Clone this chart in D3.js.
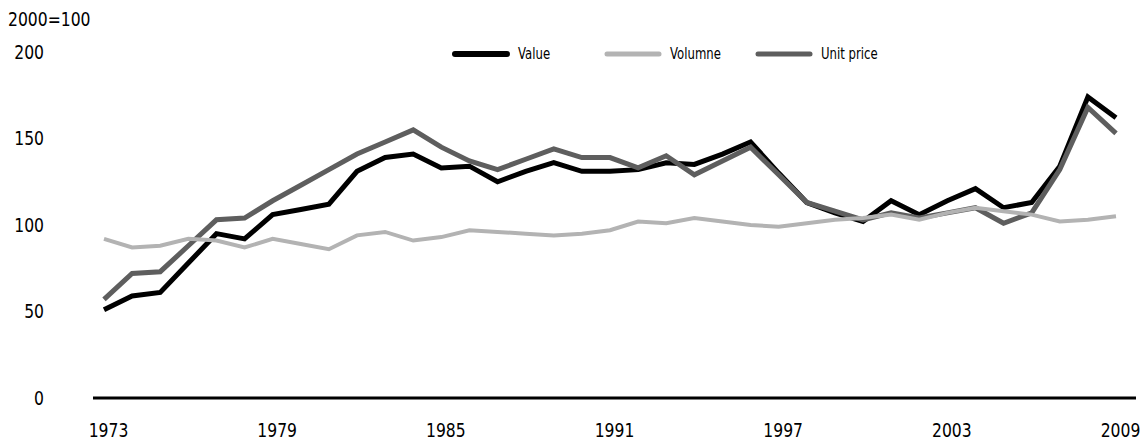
<!DOCTYPE html>
<html>
<head>
<meta charset="utf-8">
<script src="https://cdn.jsdelivr.net/npm/d3@7"></script>
<style>
  body { margin: 0; background: #fff; }
  text { font-family: "DejaVu Sans", sans-serif; fill: #000; }
</style>
</head>
<body>
<div id="chart"></div>
<script>
// years on the x axis
const years = d3.range(1973, 2010);
const xTickLabels = [1973, 1979, 1985, 1991, 1997, 2003, 2009];
const yTickLabels = [0, 50, 100, 150, 200];

// index, 2000=100
const valueSeries = [51, 59, 61, 78, 95, 92, 106, 109, 112, 131, 139, 141, 133, 134, 125, 131, 136, 131, 131, 132,
  136, 135, 141, 148, 130, 113, 107, 102, 114, 106, 114, 121, 110, 113, 134, 174, 162];
const volumeSeries = [92, 87, 88, 92, 91, 87, 92, 89, 86, 94, 96, 91, 93, 97, 96, 95, 94, 95, 97, 102,
  101, 104, 102, 100, 99, 101, 103, 104, 106, 103, 107, 110, 108, 106, 102, 103, 105];
const unitPriceSeries = [57, 72, 73, 88, 103, 104, 114, 123, 132, 141, 148, 155, 145, 137, 132, 138, 144, 139, 139, 133,
  140, 129, 137, 145, 129, 113, 108, 103, 107, 104, 107, 110, 101, 107, 132, 168, 153];

const seriesNames = ['Value', 'Volumne', 'Unit price'];

const width = 1144, height = 443;
const narrow = 'scale(0.78,1)';   // fake a condensed face

const svg = d3.select('#chart').append('svg')
  .attr('width', width)
  .attr('height', height);

const x = d3.scaleLinear().domain([1973, 2009]).range([104, 1116]);
const y = d3.scaleLinear().domain([0, 200]).range([398, 52]);

// unit label
svg.append('text')
  .attr('transform', 'translate(8,26) ' + narrow)
  .style('font-size', '20px')
  .text('2000=100');

// y axis (labels only)
const yAxis = svg.append('g')
  .attr('transform', 'translate(44,0)')
  .call(d3.axisLeft(y).tickValues(yTickLabels).tickSize(0).tickPadding(0));
yAxis.select('.domain').remove();
yAxis.selectAll('text')
  .attr('transform', narrow)
  .style('font-size', '20px')
  .style('font-family', null);

// x axis (labels only)
const xAxis = svg.append('g')
  .attr('transform', 'translate(4,423)')
  .call(d3.axisBottom(x).tickValues(xTickLabels).tickFormat(d3.format('d')).tickSize(0).tickPadding(0));
xAxis.select('.domain').remove();
xAxis.selectAll('text')
  .attr('transform', narrow)
  .style('font-size', '20px')
  .style('font-family', null);

// baseline
svg.append('line')
  .attr('x1', 93)
  .attr('x2', 1136)
  .attr('y1', y(0))
  .attr('y2', y(0))
  .attr('stroke', '#000')
  .attr('stroke-width', 3);

const line = d3.line()
  .x((d, i) => x(years[i]))
  .y(d => y(d));

const styles = {
  'Value': { color: '#000', w: 5 },
  'Volumne': { color: '#b3b3b3', w: 4 },
  'Unit price': { color: '#5e5e5e', w: 5 }
};

const drawOrder = [['Value', valueSeries], ['Unit price', unitPriceSeries], ['Volumne', volumeSeries]];

drawOrder.forEach(s => {
  svg.append('path')
    .datum(s[1])
    .attr('fill', 'none')
    .attr('stroke', styles[s[0]].color)
    .attr('stroke-width', styles[s[0]].w)
    .attr('stroke-linejoin', 'miter')
    .attr('d', line);
});

// legend
const legendX = [455, 607, 758];
const legend = svg.append('g');
seriesNames.forEach((name, i) => {
  legend.append('line')
    .attr('x1', legendX[i])
    .attr('x2', legendX[i] + 52)
    .attr('y1', 54)
    .attr('y2', 54)
    .attr('stroke', styles[name].color)
    .attr('stroke-width', name == 'Value' ? 6 : 5)
    .attr('stroke-linecap', 'round');
  legend.append('text')
    .attr('transform', `translate(${legendX[i] + 63},59) ` + narrow)
    .style('font-size', '15px')
    .text(name);
});
</script>
</body>
</html>
